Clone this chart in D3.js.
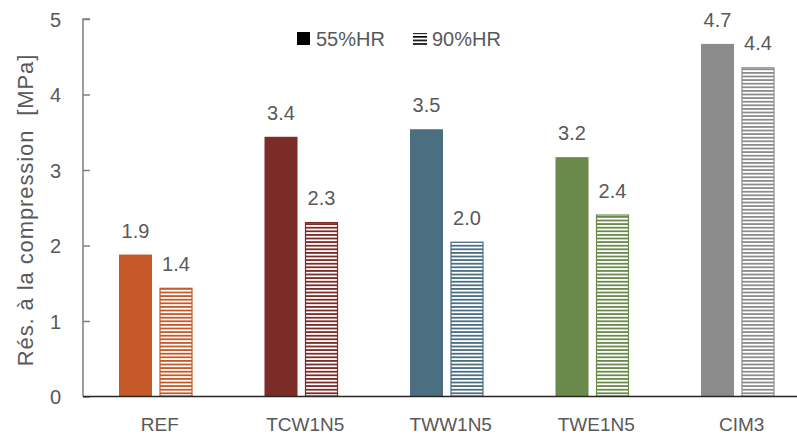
<!DOCTYPE html>
<html>
<head>
<meta charset="utf-8">
<script src="https://cdn.jsdelivr.net/npm/d3@7"></script>
<style>
  body { margin: 0; background: #fff; }
  text { font-family: "Liberation Sans", Arial, sans-serif; fill: #595959; }
</style>
</head>
<body>
<svg id="chart" width="797" height="436"></svg>
<script>
// chart data
const categories = ["REF", "TCW1N5", "TWW1N5", "TWE1N5", "CIM3"];
const series = ["55%HR", "90%HR"];
const values55 = [1.88, 3.44, 3.54, 3.17, 4.67];
const values90 = [1.44, 2.31, 2.05, 2.41, 4.36];
const colors = ["#c55a28", "#7b2c26", "#4b6e80", "#6a8a4c", "#8c8c8c"];
const yTicks = [0, 1, 2, 3, 4, 5];

const margin = {top: 19, left: 83, bottom: 39};
const width = 797, height = 436;
const plotBottom = height - margin.bottom - 0.5;

const svg = d3.select("#chart");
const defs = svg.append("defs");

// horizontal hatch per colour
colors.forEach((c, i) => {
    const p = defs.append("pattern")
        .attr("id", "hatch" + i)
        .attr("patternUnits", "userSpaceOnUse")
        .attr("width", 8).attr("height", 3.6);
    p.append("rect").attr("width", 8).attr("height", 3.6).attr("fill", "#fff");
    p.append("rect").attr("y", 0).attr("width", 8).attr("height", 1.8).attr("fill", c);
});
const legPat = defs.append("pattern")
    .attr("id", "hatchLeg")
    .attr("patternUnits", "userSpaceOnUse")
    .attr("width", 8).attr("height", 3.6);
legPat.append("rect").attr("width", 8).attr("height", 1.6).attr("fill", "#000");

const x = d3.scaleBand()
    .domain(categories)
    .range([margin.left, margin.left + 5 * 145.5]);

const y = d3.scaleLinear()
    .domain([0, 5])
    .range([plotBottom, margin.top]);

const barW = 33, gap = 7.5;

const groups = svg.append("g").selectAll("g")
    .data(categories)
    .enter().append("g");

// 55%HR solid bars
groups.append("rect")
    .attr("x", d => x(d) + x.bandwidth() / 2 - gap / 2 - barW)
    .attr("y", (d, i) => y(values55[i]))
    .attr("width", barW)
    .attr("height", (d, i) => y(0) - y(values55[i]))
    .attr("fill", (d, i) => colors[i]);

// 90%HR hatched bars
groups.append("rect")
    .attr("x", d => x(d) + x.bandwidth() / 2 + gap / 2 + 0.5)
    .attr("y", (d, i) => y(values90[i]) + 0.5)
    .attr("width", barW - 1)
    .attr("height", (d, i) => y(0) - y(values90[i]) - 1)
    .attr("fill", (d, i) => "url(#hatch" + i + ")")
    .attr("stroke", (d, i) => colors[i])
    .attr("stroke-width", 1.2);

// value labels
groups.append("text")
    .attr("x", d => x(d) + x.bandwidth() / 2 - gap / 2 - barW / 2)
    .attr("y", (d, i) => y(values55[i]) - 17)
    .attr("text-anchor", "middle")
    .style("font-size", "20px")
    .text((d, i) => values55[i].toFixed(1));

groups.append("text")
    .attr("x", d => x(d) + x.bandwidth() / 2 + gap / 2 + barW / 2)
    .attr("y", (d, i) => y(values90[i]) - 17)
    .attr("text-anchor", "middle")
    .style("font-size", "20px")
    .text((d, i) => values90[i].toFixed(1));

// y axis, ticks inside
const yAxis = svg.append("g")
    .attr("transform", "translate(" + margin.left + ",0)")
    .call(d3.axisRight(y).tickValues(yTicks).tickSize(7).tickFormat(d3.format("d")));
yAxis.select(".domain").attr("stroke", "#7f7f7f").attr("stroke-width", 1.5)
    .attr("d", "M7," + y(5) + "H0V" + y(0));
yAxis.selectAll(".tick line").attr("stroke", "#7f7f7f").attr("stroke-width", 1.5);
yAxis.selectAll(".tick text")
    .attr("x", -22).attr("dy", "0.36em")
    .attr("text-anchor", "end")
    .style("font-size", "20px").style("fill", "#595959")
    .attr("font-family", null);

// x axis
const xAxis = svg.append("g")
    .attr("transform", "translate(0," + plotBottom + ")")
    .call(d3.axisBottom(x).tickSize(0).tickPadding(21));
xAxis.select(".domain").attr("stroke", "#262626").attr("stroke-width", 1.3)
    .attr("d", "M" + margin.left + ",0H" + width);
xAxis.selectAll(".tick text")
    .attr("dx", 4)
    .style("font-size", "19px").style("fill", "#595959")
    .attr("font-family", null);

// y axis title
svg.append("text")
    .attr("transform", "translate(33," + 210 + ") rotate(-90)")
    .attr("text-anchor", "middle")
    .style("font-size", "22px")
    .style("letter-spacing", "0.9px")
    .style("white-space", "pre")
    .text("Rés. à la compression  [MPa]");

// legend
const leg = svg.append("g");
leg.append("rect").attr("x", 297).attr("y", 32).attr("width", 13).attr("height", 13).attr("fill", "#000");
leg.append("text").attr("x", 316).attr("y", 46).style("font-size", "20px").text(series[0]);
leg.append("rect").attr("x", 413).attr("y", 33).attr("width", 14).attr("height", 13).attr("fill", "url(#hatchLeg)");
leg.append("text").attr("x", 432).attr("y", 46).style("font-size", "20px").text(series[1]);
</script>
</body>
</html>
